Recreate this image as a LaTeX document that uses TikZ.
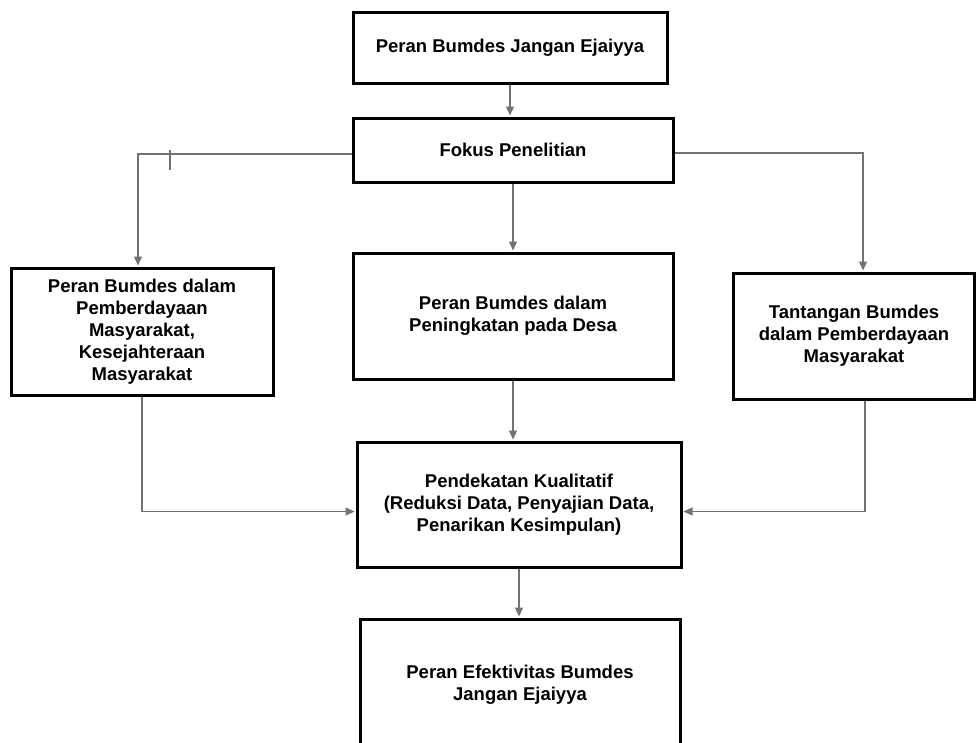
\documentclass[tikz,border=0pt]{standalone}
\usepackage{fontspec}
\setmainfont{Liberation Sans}
\usetikzlibrary{arrows.meta}
\begin{document}
\begin{tikzpicture}[x=1pt,y=-1pt,
    kotak/.style={draw=black, line width=3pt, align=center, inner sep=0pt,
      font=\fontsize{18.5}{22}\selectfont\bfseries},
    garis/.style={draw=black!55, line width=1.2pt},
    panah/.style={garis, -{Triangle[length=9pt,width=8pt]}, shorten >=1pt}]
      \useasboundingbox (0,0) rectangle (976,742);
      \fill[white] (0,0) rectangle (976,742);
      \clip (0,0) rectangle (976,742);

      \node[kotak, minimum width=314pt, minimum height=71pt] (atas) at (510, 47.5){Peran Bumdes Jangan Ejaiyya};
      \node[kotak, minimum width=320pt, minimum height=64pt] (fokus) at (513, 150){Fokus Penelitian};
      \node[kotak, minimum width=262pt, minimum height=127pt] (kiri) at (142, 331.5){Peran Bumdes dalam\\Pemberdayaan\\Masyarakat,\\Kesejahteraan\\Masyarakat};
      \node[kotak, minimum width=320pt, minimum height=126pt] (tengah) at (513, 316){Peran Bumdes dalam\\Peningkatan pada Desa};
      \node[kotak, minimum width=241pt, minimum height=126pt] (kanan) at (854, 336){Tantangan Bumdes\\dalam Pemberdayaan\\Masyarakat};
      \node[kotak, minimum width=324pt, minimum height=125pt] (metode) at (519, 504.5){Pendekatan Kualitatif\\(Reduksi Data, Penyajian Data,\\Penarikan Kesimpulan)};
      \node[kotak, minimum width=320pt, minimum height=132pt] (hasil) at (520, 685){Peran Efektivitas Bumdes\\Jangan Ejaiyya};

      \draw[panah](atas.south) to (atas.south |- fokus.north);
      \draw[panah]([yshift=-4pt]fokus.west) -| ([xshift=-4pt]kiri.north);
        \draw[garis](170, 150) to (170, 170);
      \draw[panah](fokus.south) to (fokus.south |- tengah.north);
      \draw[panah]([yshift=-3pt]fokus.east) -| ([xshift=9pt]kanan.north);

      \draw[panah](kiri.south) |- ([yshift=-7pt]metode.west);
      \draw[panah](tengah.south) to (tengah.south |- metode.north);
      \draw[panah]([xshift=11pt]kanan.south) |- ([yshift=-7pt]metode.east);
      \draw[panah](metode.south) to (metode.south |- hasil.north);
    \end{tikzpicture}
\end{document}
